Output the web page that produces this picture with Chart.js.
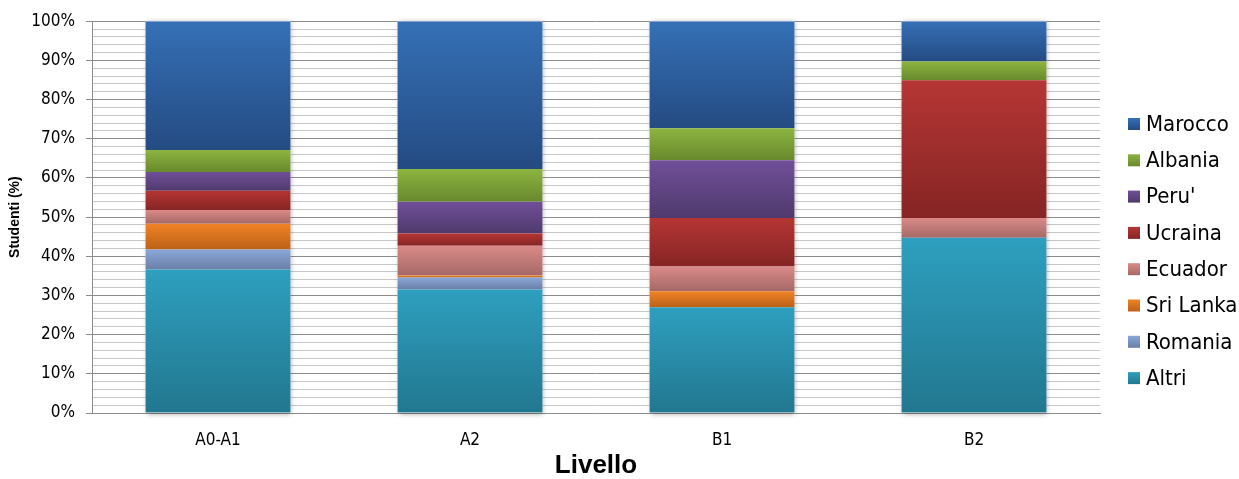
<!DOCTYPE html>
<html>
<head>
<meta charset="utf-8">
<script src="https://cdn.jsdelivr.net/npm/chart.js@4/dist/chart.umd.min.js"></script>
<style>
  html, body { margin: 0; padding: 0; background: #fff; overflow: hidden; }
  #wrap { width: 1239px; height: 479px; position: relative; }
</style>
</head>
<body>
<div id="wrap"><canvas id="chart"></canvas></div>
<script>
// ===== DATA (percent of students per level) =====
const levels = ['A0-A1', 'A2', 'B1', 'B2'];

const altri    = [36.6, 31.5, 27.0, 44.7];
const romania  = [5.1, 3.1, 0, 0];
const sriLanka = [6.6, 0.5, 4.1, 0];
const ecuador  = [3.5, 7.6, 6.3, 5.1];
const ucraina  = [4.9, 3.1, 12.4, 35.1];
const peru     = [4.8, 8.1, 14.7, 0];
const albania  = [5.6, 8.4, 8.2, 4.8];
const marocco  = [32.9, 37.7, 27.3, 10.3];

const yTicks = [0, 10, 20, 30, 40, 50, 60, 70, 80, 90, 100];

// stack order bottom -> top, each with a top/bottom gradient pair
const series = [
  { name: 'Altri',     values: altri,    top: '#2e9fbf', bottom: '#22778f' },
  { name: 'Romania',   values: romania,  top: '#89a7d8', bottom: '#6a7fa6' },
  { name: 'Sri Lanka', values: sriLanka, top: '#f08226', bottom: '#bb6217' },
  { name: 'Ecuador',   values: ecuador,  top: '#da8a88', bottom: '#a56967' },
  { name: 'Ucraina',   values: ucraina,  top: '#b53634', bottom: '#852524' },
  { name: "Peru'",     values: peru,     top: '#704f99', bottom: '#4f3a6c' },
  { name: 'Albania',   values: albania,  top: '#8db440', bottom: '#68892d' },
  { name: 'Marocco',   values: marocco,  top: '#3570b6', bottom: '#244b82' }
];

const TICK_FONT = '"DejaVu Sans Condensed", "DejaVu Sans", sans-serif';

function segmentFill(c) {
  const s = series[c.datasetIndex];
  const chart = c.chart;
  if (c.type !== 'data' || !chart.chartArea) return s.top;
  const y = chart.scales.y;
  let lo = 0;
  for (let i = 0; i < c.datasetIndex; i++) lo += series[i].values[c.dataIndex];
  const hi = lo + s.values[c.dataIndex];
  const pTop = y.getPixelForValue(hi);
  const pBot = y.getPixelForValue(lo);
  if (!(pBot > pTop)) return s.top;
  const g = chart.ctx.createLinearGradient(0, pTop, 0, pBot);
  g.addColorStop(0, s.top);
  g.addColorStop(1, s.bottom);
  return g;
}

// soft shadow behind each full stack
const stackShadow = {
  id: 'stackShadow',
  beforeDatasetsDraw(chart) {
    const meta = chart.getDatasetMeta(0);
    const y = chart.scales.y;
    const ctx = chart.ctx;
    ctx.save();
    ctx.shadowColor = 'rgba(0,0,0,0.35)';
    ctx.shadowBlur = 5;
    ctx.shadowOffsetX = 1;
    ctx.shadowOffsetY = 1;
    ctx.fillStyle = '#ffffff';
    meta.data.forEach(bar => {
      const top = y.getPixelForValue(100);
      const bot = y.getPixelForValue(0);
      ctx.fillRect(bar.x - bar.width / 2, top, bar.width, bot - top);
    });
    ctx.restore();
  }
};

// legend at the right, Marocco first
const sideLegend = {
  id: 'sideLegend',
  afterDraw(chart) {
    const ctx = chart.ctx;
    const x0 = 1128, y0 = 124, step = 36.3, box = 12;
    ctx.save();
    ctx.font = '22px ' + TICK_FONT;
    ctx.textBaseline = 'middle';
    ctx.fillStyle = '#000';
    series.slice().reverse().forEach((s, i) => {
      const cy = y0 + i * step;
      const g = ctx.createLinearGradient(0, cy - box / 2, 0, cy + box / 2);
      g.addColorStop(0, s.top);
      g.addColorStop(1, s.bottom);
      ctx.fillStyle = g;
      ctx.fillRect(x0, cy - box / 2, box, box);
      ctx.fillStyle = '#000';
      ctx.fillText(s.name, x0 + 18, cy + 1);
    });
    ctx.restore();
  }
};

new Chart(document.getElementById('chart'), {
  type: 'bar',
  data: {
    labels: levels,
    datasets: series.map(s => ({
      label: s.name,
      data: s.values,
      backgroundColor: segmentFill,
      borderWidth: 0,
      categoryPercentage: 1,
      barPercentage: 0.575
    }))
  },
  options: {
    responsive: true,
    maintainAspectRatio: false,
    animation: false,
    layout: { padding: { top: 7, right: 139, bottom: 0, left: 0 } },
    plugins: {
      legend: { display: false },
      tooltip: { enabled: false }
    },
    scales: {
      x: {
        stacked: true,
        grid: { display: false, drawTicks: false },
        border: { display: true, color: '#8c8c8c' },
        ticks: { color: '#000', padding: 17, font: { family: TICK_FONT, size: 17 } },
        title: {
          display: true,
          text: 'Livello',
          color: '#000',
          padding: { top: 0, bottom: 0 },
          font: { family: '"Liberation Sans", Arial, sans-serif', size: 26, weight: 'bold', lineHeight: 1 }
        },
        afterFit(scale) { scale.height = 66; }
      },
      y: {
        stacked: true,
        min: 0,
        max: 100,
        border: { display: true, color: '#8c8c8c' },
        grid: {
          color: c => (yTicks.includes(c.tick.value) ? '#8c8c8c' : '#c8c8c8'),
          tickColor: c => (yTicks.includes(c.tick.value) ? '#8c8c8c' : 'rgba(0,0,0,0)'),
          tickLength: 6
        },
        ticks: {
          stepSize: 2,
          autoSkip: false,
          color: '#000',
          padding: 11,
          font: { family: TICK_FONT, size: 17 },
          callback: v => (yTicks.includes(v) ? v + '%' : '')
        },
        title: {
          display: true,
          text: 'Studenti (%)',
          color: '#000',
          padding: { top: 8, bottom: 0 },
          font: { family: '"Liberation Sans", Arial, sans-serif', size: 14, weight: 'bold', lineHeight: 1 }
        },
        afterFit(scale) { scale.width = 92; }
      }
    }
  },
  plugins: [stackShadow, sideLegend]
});
</script>
</body>
</html>
